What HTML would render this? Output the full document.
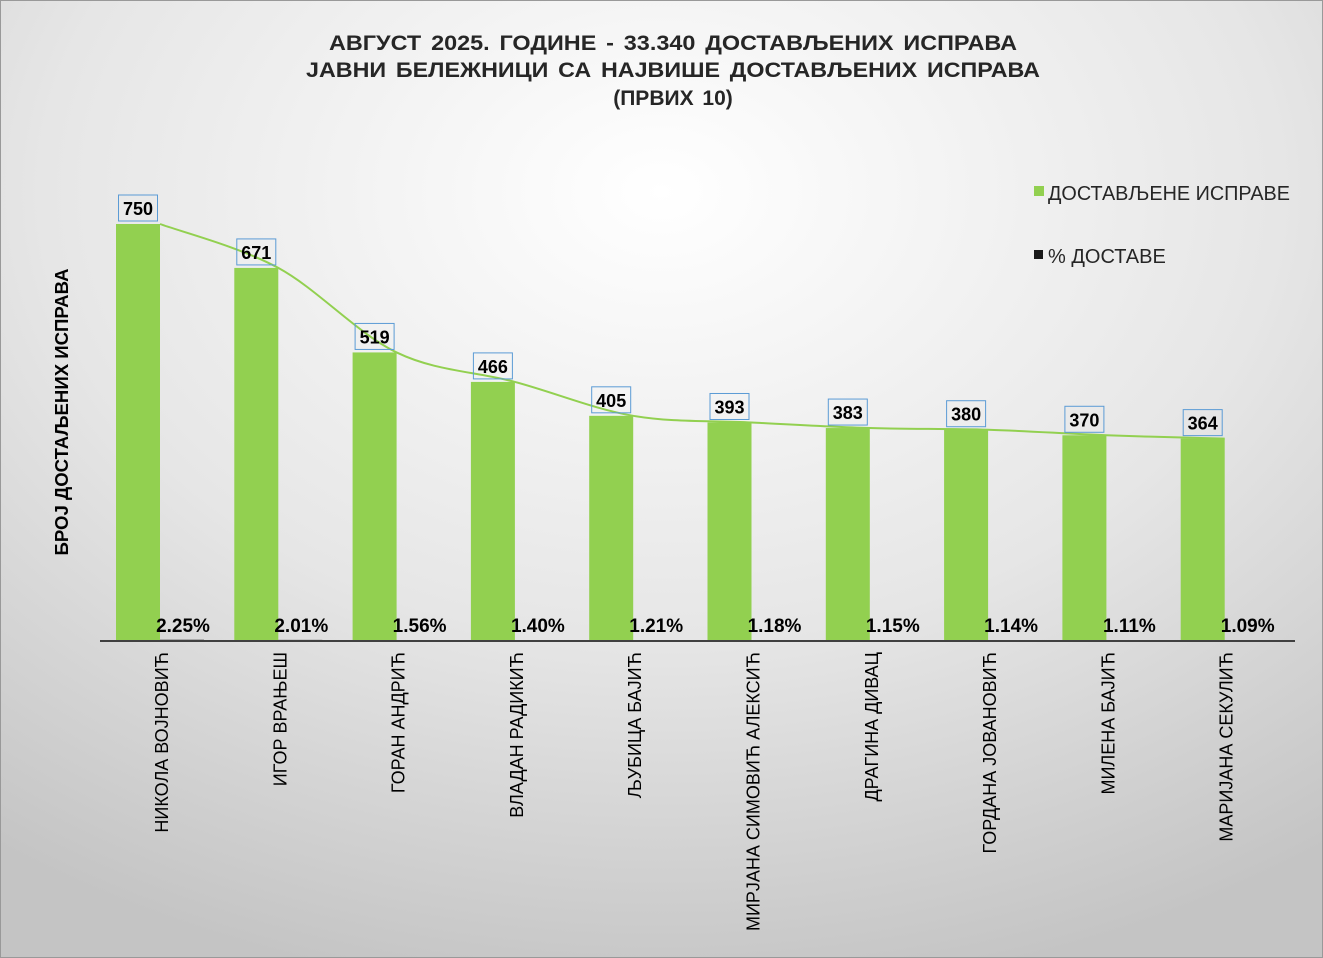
<!DOCTYPE html>
<html><head><meta charset="utf-8"><style>
body{margin:0;width:1323px;height:958px;overflow:hidden}
svg{display:block;font-family:"Liberation Sans",sans-serif}
</style></head><body>
<svg width="1323" height="958" xmlns="http://www.w3.org/2000/svg">
<defs>
<radialGradient id="bg" cx="0.5" cy="0.2" r="0.85">
<stop offset="0" stop-color="#ffffff"/><stop offset="0.55" stop-color="#e6e6e6"/><stop offset="1" stop-color="#c4c4c4"/>
</radialGradient>
</defs>
<rect x="0.5" y="0.5" width="1322" height="957" fill="url(#bg)" stroke="#999"/>
<g font-weight="bold" font-size="21" fill="#262626" text-anchor="middle" word-spacing="3">
<text x="673" y="50" textLength="688" lengthAdjust="spacingAndGlyphs">АВГУСТ 2025. ГОДИНЕ - 33.340  ДОСТАВЉЕНИХ  ИСПРАВА</text>
<text x="673" y="77" textLength="734" lengthAdjust="spacingAndGlyphs">ЈАВНИ БЕЛЕЖНИЦИ СА НАЈВИШЕ ДОСТАВЉЕНИХ  ИСПРАВА</text>
<text x="673" y="105">(ПРВИХ 10)</text>
</g>
<text transform="translate(68,412) rotate(-90)" text-anchor="middle" font-weight="bold" font-size="18" fill="#000" textLength="287" lengthAdjust="spacingAndGlyphs">БРОЈ ДОСТАЉЕНИХ ИСПРАВА</text>
<g font-size="20" fill="#262626">
<rect x="1034" y="186" width="10" height="10" fill="#92d050"/>
<text x="1048" y="200" textLength="242" lengthAdjust="spacingAndGlyphs">ДОСТАВЉЕНЕ  ИСПРАВЕ</text>
<rect x="1034" y="250" width="9" height="9" fill="#1a1a1a"/>
<text x="1048" y="263">% ДОСТАВЕ</text>
</g>
<g id="plot"></g>
<line x1="100" y1="641" x2="1295" y2="641" stroke="#404040" stroke-width="2"/>
</svg>
<script>
const categories=["НИКОЛА ВОЈНОВИЋ","ИГОР ВРАЊЕШ","ГОРАН АНДРИЋ","ВЛАДАН РАДИКИЋ","ЉУБИЦА БАЈИЋ","МИРЈАНА СИМОВИЋ АЛЕКСИЋ","ДРАГИНА ДИВАЦ","ГОРДАНА ЈОВАНОВИЋ","МИЛЕНА БАЈИЋ","МАРИЈАНА СЕКУЛИЋ"];
const documents=[750,671,519,466,405,393,383,380,370,364];
const percents=[2.25,2.01,1.56,1.40,1.21,1.18,1.15,1.14,1.11,1.09];
const percentLabels=["2.25%","2.01%","1.56%","1.40%","1.21%","1.18%","1.15%","1.14%","1.11%","1.09%"];
const NS="http://www.w3.org/2000/svg";
const g=document.getElementById('plot');
const base=641, k=417/750, x0=160, pitch=118.3, bw=44;
const xc=i=>x0+i*pitch;
const y=v=>base-v*k;
function mk(t,a){const e=document.createElementNS(NS,t);for(const n in a)e.setAttribute(n,a[n]);g.appendChild(e);return e;}
const pts=[];
categories.forEach((c,i)=>{
  const b=mk('rect',{x:xc(i)-bw,y:y(documents[i]),width:bw,height:documents[i]*k,fill:'#92d050'});
  
  
  const p=mk('rect',{x:xc(i),y:base-Math.max(1,percents[i]*k),width:bw,height:Math.max(1,percents[i]*k),fill:'#1a1a1a'});
  
  
  pts.push([xc(i),y(documents[i])]);
});
let d='M'+pts[0][0]+','+pts[0][1];
for(let i=0;i<pts.length-1;i++){
  const p0=pts[Math.max(0,i-1)],p1=pts[i],p2=pts[i+1],p3=pts[Math.min(pts.length-1,i+2)];
  const c1=[p1[0]+(p2[0]-p0[0])/6,p1[1]+(p2[1]-p0[1])/6],c2=[p2[0]-(p3[0]-p1[0])/6,p2[1]-(p3[1]-p1[1])/6];
  d+=' C'+c1+' '+c2+' '+p2;
}
const ln=mk('path',{d:d,fill:'none',stroke:'#92d050','stroke-width':2});


categories.forEach((c,i)=>{
  const cx=xc(i)-bw/2, ty=y(documents[i]);
  const bx=mk('rect',{x:cx-19.5,y:ty-29,width:39,height:26,fill:'none',stroke:'#5b9bd5','stroke-width':1});
  
  
  const t=mk('text',{x:cx,y:ty-9,'text-anchor':'middle','font-size':18,'font-weight':'bold',fill:'#000'});
  t.textContent=documents[i];
  
  
  const pt=mk('text',{x:xc(i)+23,y:632,'text-anchor':'middle','font-size':19,'font-weight':'bold',fill:'#000'});
  pt.textContent=percentLabels[i];
  
  
  const cl=mk('text',{transform:'translate('+(xc(i)+8)+',652) rotate(-90)','text-anchor':'end','font-size':18,fill:'#000'});
  cl.textContent=c;
  
  
});
</script>
</body></html>
